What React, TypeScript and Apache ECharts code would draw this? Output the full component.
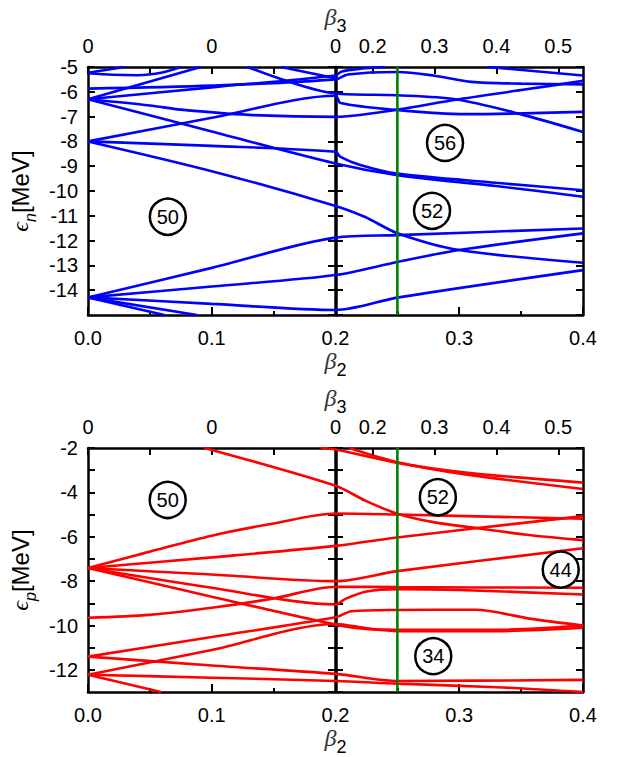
import React, { useEffect, useRef } from 'react';
import * as echarts from 'echarts';

// ---------- axis ticks ----------
const beta2Min = 0;
const beta2Max = 0.4;
const topTickPos = [0, 0.1, 0.2, 0.23, 0.28, 0.33, 0.38];
const topTickLabels = ['0', '0', '0', '0.2', '0.3', '0.4', '0.5'];
const topMinorPos = [0.05, 0.15];
const greenBeta2 = 0.25;

const nYMin = -15, nYMax = -5;
const pYMin = -13, pYMax = -2;

// ---------- neutron levels (top panel) [beta2, E] ----------
const n1 = [[0, -5.23], [0.0295, -5.0]];
const n2 = [[0, -5.25], [0.02, -5.31], [0.04, -5.33], [0.06, -5.22], [0.075, -5.0]];
const n3 = [[0, -5.87], [0.1, -5.75], [0.2, -5.5], [0.21, -5.3], [0.25, -5.2], [0.28, -5.35], [0.31, -5.6], [0.35, -5.67], [0.4, -5.7]];
const n4 = [[0, -6.3], [0.091, -5.0]];
const n5 = [[0, -6.3], [0.1, -5.82], [0.2, -5.34], [0.205, -5.18], [0.22, -5.07], [0.24, -5.0]];
const n6 = [[0, -6.3], [0.05, -6.55], [0.075, -6.72], [0.13, -6.93], [0.2, -7.01], [0.25, -6.72], [0.297, -6.32], [0.35, -5.93], [0.4, -5.56]];
const n7 = [[0, -6.3], [0.1, -7.6], [0.2, -8.89], [0.25, -9.36], [0.33, -9.8], [0.4, -10.23]];
const n8 = [[0, -8.0], [0.1, -7.05], [0.2, -6.16], [0.204, -6.45], [0.251, -6.74], [0.305, -6.9], [0.4, -6.81]];
const n9 = [[0.129, -5.0], [0.2, -6.07], [0.25, -6.14], [0.297, -6.3], [0.348, -6.88], [0.4, -7.62]];
const n10 = [[0.156, -5.0], [0.2, -5.45]];
const n11 = [[0, -8.0], [0.1, -8.18], [0.2, -8.42], [0.204, -8.62], [0.22, -8.95], [0.25, -9.3], [0.33, -9.67], [0.4, -9.97]];
const n12 = [[0, -8.0], [0.1, -9.2], [0.2, -10.6], [0.224, -11.05], [0.25, -11.7], [0.3, -12.38], [0.4, -12.89]];
const n13 = [[0, -14.29], [0.1, -13.1], [0.2, -11.88], [0.25, -11.78], [0.4, -11.51]];
const n14 = [[0, -14.29], [0.1, -13.85], [0.2, -13.39], [0.251, -12.85], [0.3, -12.38], [0.4, -11.71]];
const n15 = [[0, -14.29], [0.1, -14.55], [0.2, -14.8], [0.251, -14.29], [0.4, -13.19]];
const n16 = [[0, -14.29], [0.0617, -15.0]];
const n17 = [[0, -14.29], [0.088, -15.0]];
const n18 = [[0.3235, -5.0], [0.4, -5.34]];
const neutronLevels = [n1, n2, n3, n4, n5, n6, n7, n8, n9, n10, n11, n12, n13, n14, n15, n16, n17, n18];

// ---------- proton levels (bottom panel) ----------
const p1 = [[0.094, -2.0], [0.2, -3.7], [0.224, -4.37], [0.25, -4.96], [0.278, -5.33], [0.313, -5.6], [0.358, -5.93], [0.4, -6.15]];
const p2 = [[0.188, -2.0], [0.2, -2.07], [0.25, -2.67], [0.305, -3.11], [0.4, -3.56]];
const p3 = [[0.211, -2.0], [0.25, -2.64], [0.305, -3.19], [0.4, -3.85]];
const p4 = [[0, -7.41], [0.05, -6.67], [0.1, -5.95], [0.15, -5.4], [0.2, -4.95], [0.25, -5.0], [0.4, -5.19]];
const p5 = [[0, -7.41], [0.1, -6.93], [0.2, -6.41], [0.25, -6.03], [0.4, -5.07]];
const p6 = [[0, -7.41], [0.1, -7.7], [0.2, -8.0], [0.25, -7.55], [0.4, -6.52]];
const p7 = [[0, -7.41], [0.1, -8.3], [0.2, -9.05], [0.208, -8.8], [0.225, -8.47], [0.25, -8.36], [0.3, -8.4], [0.4, -8.6]];
const p8 = [[0, -7.41], [0.1, -8.7], [0.2, -9.96], [0.225, -10.15], [0.25, -10.19], [0.33, -10.19], [0.4, -10.0]];
const p9 = [[0, -9.65], [0.05, -9.52], [0.1, -9.2], [0.15, -8.78], [0.2, -8.25], [0.25, -8.27], [0.4, -8.3]];
const p10 = [[0, -11.4], [0.1, -10.52], [0.2, -9.63], [0.213, -9.36], [0.25, -9.3], [0.313, -9.29], [0.358, -9.7], [0.4, -10.0]];
const p11 = [[0, -12.22], [0.1, -11.1], [0.2, -9.93], [0.225, -10.12], [0.25, -10.25], [0.33, -10.25], [0.4, -10.1]];
const p12 = [[0, -11.4], [0.1, -11.8], [0.2, -12.18], [0.25, -12.5], [0.4, -12.45]];
const p13 = [[0, -12.22], [0.1, -12.35], [0.2, -12.5], [0.25, -12.62], [0.33, -12.78], [0.4, -13.0]];
const p14 = [[0, -12.22], [0.059, -13.0]];
const protonLevels = [p1, p2, p3, p4, p5, p6, p7, p8, p9, p10, p11, p12, p13, p14];

// ---------- circled shell-gap labels ----------
const neutronGaps = [
  { value: [0.0645, -11.04], name: '50' },
  { value: [0.2885, -8.06], name: '56' },
  { value: [0.278, -10.8], name: '52' },
];
const protonGaps = [
  { value: [0.0644, -4.34], name: '50' },
  { value: [0.2827, -4.22], name: '52' },
  { value: [0.382, -7.48], name: '44' },
  { value: [0.279, -11.38], name: '34' },
];

const SANS = 'Liberation Sans, Arial, sans-serif';
const SERIF = 'Liberation Serif, serif';
const FS = 20;

export default function App() {
  const ref = useRef<HTMLDivElement>(null);
  useEffect(() => {
    if (!ref.current) return;
    const chart = echarts.init(ref.current, undefined, { renderer: 'svg' });

    const gridW = 496;
    const half = gridW / 2;
    const axisLine = { show: true, onZero: false, lineStyle: { color: '#000', width: 2.5 } };

    const betaName = (sub: string) => `{b|β}{s|${sub}}`;
    const betaRich = {
      b: { fontFamily: SERIF, fontStyle: 'italic', fontSize: 24, color: '#333', lineHeight: 36, verticalAlign: 'middle' },
      s: { fontFamily: SANS, fontSize: 18, color: '#000', lineHeight: 36, verticalAlign: 'bottom' },
    };
    const epsRich = {
      e: { fontFamily: SERIF, fontStyle: 'italic', fontSize: 24, color: '#000', lineHeight: 36, verticalAlign: 'middle' },
      s: { fontFamily: SANS, fontStyle: 'italic', fontSize: 16, color: '#000', lineHeight: 36, verticalAlign: 'bottom' },
      t: { fontFamily: SANS, fontSize: 24, color: '#000', lineHeight: 36, verticalAlign: 'middle' },
    };

    const xBottom = (gi: number) => ({
      type: 'value', gridIndex: gi, position: 'bottom', min: beta2Min, max: beta2Max, interval: 0.1,
      axisLine, splitLine: { show: false },
      axisTick: { show: true, inside: true, length: 8, lineStyle: { color: '#000', width: 2 } },
      minorTick: { show: true, splitNumber: 2, length: 4, lineStyle: { color: '#000', width: 2 } },
      axisLabel: { color: '#000', fontFamily: SANS, fontSize: FS, margin: 13, formatter: (v: number) => v.toFixed(1) },
      name: betaName('2'), nameLocation: 'middle', nameGap: 25,
      nameTextStyle: { rich: betaRich },
    });
    const xTop = (gi: number) => ({
      type: 'value', gridIndex: gi, position: 'top', min: beta2Min, max: beta2Max,
      axisLine, splitLine: { show: false },
      axisTick: { show: true, inside: true, length: 7, customValues: [...topTickPos, ...topMinorPos], lineStyle: { color: '#000', width: 2 } },
      axisLabel: {
        color: '#000', fontFamily: SANS, fontSize: FS, margin: 11, customValues: topTickPos,
        formatter: (v: number) => {
          const i = topTickPos.findIndex((p) => Math.abs(p - v) < 1e-6);
          return i >= 0 ? topTickLabels[i] : '';
        },
      },
      name: betaName('3'), nameLocation: 'middle', nameGap: 32,
      nameTextStyle: { rich: betaRich },
    });
    const yAxes = (gi: number, min: number, max: number, fmt: (v: number) => string, sub: string) => {
      const tick = { show: true, inside: true, length: 7, lineStyle: { color: '#000', width: 2 } };
      return [
        {
          type: 'value', gridIndex: gi, position: 'left', min, max, interval: 1,
          axisLine, splitLine: { show: false }, axisTick: tick,
          axisLabel: { color: '#000', fontFamily: SANS, fontSize: FS, margin: 10, showMinLabel: false, formatter: fmt },
          name: `{e|ϵ}{s|${sub}}{t|[MeV]}`, nameLocation: 'middle', nameGap: 50, nameRotate: 90,
          nameTextStyle: { rich: epsRich },
        },
        { type: 'value', gridIndex: gi, position: 'right', min, max, interval: 1, axisLine, splitLine: { show: false }, axisTick: tick, axisLabel: { show: false } },
        { type: 'value', gridIndex: gi, position: 'left', offset: -half, min, max, interval: 1, axisLine, splitLine: { show: false }, axisTick: tick, axisLabel: { show: false } },
        { type: 'value', gridIndex: gi, position: 'right', offset: -half, min, max, interval: 1, axisLine, splitLine: { show: false }, axisTick: tick, axisLabel: { show: false } },
      ];
    };

    const levelSeries = (levels: number[][][], color: string, xi: number, yi: number) =>
      levels.map((pts) => ({
        type: 'line', xAxisIndex: xi, yAxisIndex: yi, data: pts, showSymbol: false, symbol: 'none',
        smooth: 0.3, silent: true, z: 3, lineStyle: { color, width: 2.6 },
      }));

    const greenSeries = (xi: number, yi: number, min: number, max: number) => ({
      type: 'line', xAxisIndex: xi, yAxisIndex: yi, data: [[greenBeta2, min], [greenBeta2, max]],
      showSymbol: false, symbol: 'none', silent: true, z: 4, lineStyle: { color: '#008000', width: 2.6 },
    });

    const gapSeries = (data: any[], xi: number, yi: number) => ({
      type: 'scatter', xAxisIndex: xi, yAxisIndex: yi, data, symbol: 'circle', symbolSize: 36, z: 6, silent: true,
      itemStyle: { color: '#fff', borderColor: '#000', borderWidth: 2.5, opacity: 1 },
      label: { show: true, position: 'inside', formatter: '{b}', color: '#000', fontFamily: SANS, fontSize: FS },
    });

    chart.setOption({
      animation: false,
      backgroundColor: '#fff',
      grid: [
        { left: 87, top: 67, width: gridW, height: 248 },
        { left: 87, top: 448, width: gridW, height: 247.5 },
      ],
      xAxis: [xBottom(0), xTop(0), xBottom(1), xTop(1)],
      yAxis: [
        ...yAxes(0, nYMin, nYMax, (v: number) => String(v), 'n'),
        ...yAxes(1, pYMin, pYMax, (v: number) => (v % 2 === 0 ? String(v) : ''), 'p'),
      ],
      series: [
        ...levelSeries(neutronLevels, '#0000ff', 0, 0),
        greenSeries(0, 0, nYMin, nYMax),
        gapSeries(neutronGaps, 0, 0),
        ...levelSeries(protonLevels, '#ff0000', 2, 4),
        greenSeries(2, 4, pYMin, pYMax),
        gapSeries(protonGaps, 2, 4),
      ],
    });
    return () => chart.dispose();
  }, []);
  return <div ref={ref} style={{ position: 'absolute', left: 0, top: 0, width: 625, height: 757, background: '#fff' }} />;
}
